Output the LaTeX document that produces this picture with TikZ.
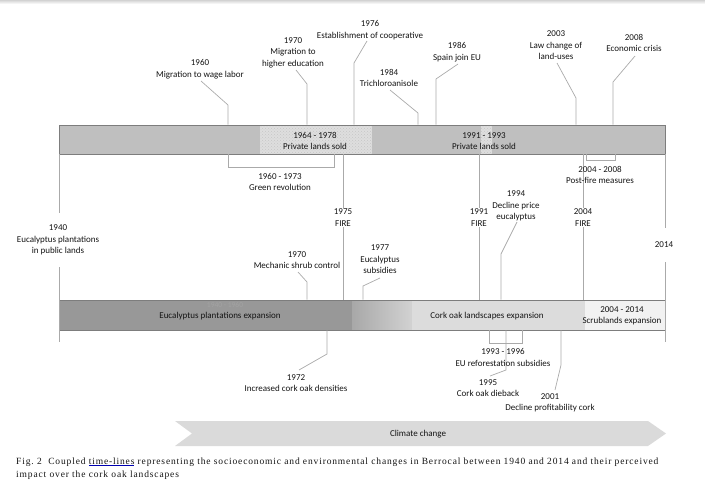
\documentclass[tikz,border=0pt]{standalone}
\usepackage{fontspec}
\setmainfont{Carlito}
\newfontfamily\capfont[LetterSpace=9]{Liberation Serif}
\usetikzlibrary{patterns}
\definecolor{topfill}{RGB}{191,191,191}
\definecolor{barborder}{RGB}{125,125,125}
\definecolor{hatchfill}{RGB}{222,222,222}
\definecolor{eucfill}{RGB}{152,152,152}
\definecolor{corkfill}{RGB}{220,220,220}
\definecolor{scrubfill}{RGB}{242,242,242}
\definecolor{linegray}{RGB}{170,170,170}
\definecolor{climfill}{RGB}{218,218,218}
\definecolor{txt}{RGB}{20,20,20}
\begin{document}
\begin{tikzpicture}[x=1pt,y=-1pt,
  lbl/.style={align=center,font=\fontsize{9}{11.6}\selectfont,inner sep=1pt,text=txt},
  wlbl/.style={lbl,fill=white},
  call/.style={draw=linegray,line width=0.7pt},
  barline/.style={draw=barborder,line width=0.8pt}]
\useasboundingbox (0,0) rectangle (705,490);
\shade[top color=gray!35,bottom color=white] (0,0) rectangle (705,4);

% ---------- top bar ----------
\fill[topfill] (59,125) rectangle (665,154);
\fill[hatchfill] (260,125) rectangle (372,154);
\fill[pattern=crosshatch dots,pattern color=gray!45] (260,125) rectangle (372,154);
\fill[hatchfill] (481,125) rectangle (492,154);
\fill[pattern=crosshatch dots,pattern color=gray!45] (481,125) rectangle (492,154);
\node[barline,minimum width=606pt,minimum height=29pt,inner sep=0pt] (topbar) at (362,139.5) {};
\node[lbl] (pl1) at (315,141) {1964 - 1978\\Private lands sold};
\node[lbl] (pl2) at (484,141) {1991 - 1993\\Private lands sold};

% ---------- bottom bar ----------
\fill[eucfill] (59,300) rectangle (352,330);
\shade[left color={rgb,255:red,168;green,168;blue,168},right color={rgb,255:red,210;green,210;blue,210}] (352,300) rectangle (412,330);
\fill[corkfill] (412,300) rectangle (585,330);
\fill[scrubfill] (585,300) rectangle (665,330);
\node[barline,minimum width=606pt,minimum height=30pt,inner sep=0pt] (botbar) at (362,315) {};
\node[lbl,text={rgb,255:red,163;green,163;blue,163},font=\fontsize{7.5}{9}\selectfont] (ghost) at (225,305) {1940 - 1960};
\node[lbl] (eucexp) at (220,316) {Eucalyptus plantations expansion};
\node[lbl] (corkexp) at (487,316) {Cork oak landscapes expansion};
\node[lbl] (scrub) at (622,316) {2004 - 2014\\Scrublands expansion};

% ---------- top callouts ----------
\node[lbl] (l1960) at (200,69) {1960\\Migration to wage labor};
\node[lbl] (l1970a) at (293,52.5) {1970\\Migration to\\higher education};
\node[lbl] (l1976) at (370,30) {1976\\Establishment of cooperative};
\node[lbl] (l1984) at (389,78) {1984\\Trichloroanisole};
\node[lbl] (l1986) at (457,52) {1986\\Spain join EU};
\node[lbl] (l2003) at (556,45.5) {2003\\Law change of\\land-uses};
\node[lbl] (l2008) at (634,43) {2008\\Economic crisis};

\coordinate (c1960) at (228,105);
\draw[call] (topbar.north -| c1960) -- (c1960) -- (201,81);
\coordinate (c1970a) at (307,84);
\draw[call] (topbar.north -| c1970a) -- (c1970a) -- (296,70);
\coordinate (c1976) at (354,63);
\draw[call] (topbar.north -| c1976) -- (c1976) -- (367,41);
\coordinate (c1984) at (418,113);
\draw[call] (topbar.north -| c1984) -- (c1984) -- (390,90);
\coordinate (c1986) at (436,79);
\draw[call] (topbar.north -| c1986) -- (c1986) -- (458,64);
\coordinate (c2003) at (576,98);
\draw[call] (topbar.north -| c2003) -- (c2003) -- (557,63);
\coordinate (c2008) at (613,82);
\draw[call] (topbar.north -| c2008) -- (c2008) -- (635,56);

% ---------- brackets under top bar ----------
\draw[call] (topbar.south -| 228,0) -- (228,167) -- (334,167) -- (topbar.south -| 334,0);
\node[lbl] (green) at (280,182) {1960 - 1973\\Green revolution};
\draw[call] (topbar.south -| 586,0) -- (586,160) -- (615,160) -- (topbar.south -| 615,0);

% ---------- long vertical lines between bars ----------
\coordinate (v1940) at (59,0);
\coordinate (v1975) at (343,0);
\coordinate (v1991) at (479,0);
\coordinate (v2004) at (583,0);
\coordinate (v2014) at (665,0);
\draw[call] (topbar.south -| v1975) -- (botbar.north -| v1975);
\draw[call] (topbar.south -| v1991) -- (botbar.north -| v1991);
\draw[call] (topbar.south -| v2004) -- (botbar.north -| v2004);
\draw[call] (topbar.south -| v1940) -- (59,342);
\draw[call] (topbar.south -| v2014) -- (665,342);
\node[lbl] (pf) at (600,175) {2004 - 2008\\Post-fire measures};
\node[wlbl] (f1975) at (343,217.5) {1975\\FIRE};
\node[wlbl] (f1991) at (479,217.5) {1991\\FIRE};
\node[wlbl] (f2004) at (583,217.5) {2004\\FIRE};
\node[wlbl,inner ysep=12pt] (l1940) at (58,240) {1940\\Eucalyptus plantations\\in public lands};
\node[wlbl,inner ysep=14pt] (l2014) at (664,245) {2014};

% ---------- callouts above bottom bar ----------
\node[lbl] (l1970b) at (297,260) {1970\\Mechanic shrub control};
\coordinate (c1970b) at (307,282);
\draw[call] (botbar.north -| c1970b) -- (c1970b) -- (298,272);
\node[lbl] (l1977) at (380,259.5) {1977\\Eucalyptus\\subsidies};
\coordinate (c1977) at (363,286);
\draw[call] (botbar.north -| c1977) -- (c1977) -- (380,278);
\node[lbl] (l1994) at (516,206) {1994\\Decline price\\eucalyptus};
\coordinate (c1994) at (501,254);
\draw[call] (botbar.north -| c1994) -- (c1994) -- (517,222);

% ---------- below bottom bar ----------
\coordinate (c1972) at (327,354);
\draw[call] (botbar.south -| c1972) -- (c1972) -- (299,370);
\node[lbl] (l1972) at (296,383) {1972\\Increased cork oak densities};
\draw[call] (botbar.south -| 489,0) -- (489,343) -- (522,343) -- (botbar.south -| 522,0);
\coordinate (c1995) at (506,370);
\draw[call] (botbar.south -| c1995) -- (c1995) -- (490,376);
\node[lbl] (eu) at (503,357.5) {1993 - 1996\\EU reforestation subsidies};
\node[lbl] (l1995) at (488,388) {1995\\Cork oak dieback};
\coordinate (c2001) at (561,365);
\draw[call] (botbar.south -| c2001) -- (c2001) -- (555,390);
\node[lbl] (l2001) at (550,403) {2001\\Decline profitability cork};

% ---------- climate change arrow ----------
\fill[climfill] (175,421) -- (648,421) -- (666,433.5) -- (648,446) -- (175,446) -- (192,433.5) -- cycle;
\node[lbl] (clim) at (418,434) {Climate change};

% ---------- caption ----------
\node[anchor=base west,inner sep=0pt,text=txt,font=\capfont\fontsize{9.5}{11}\selectfont] (cap1) at (16,464)
  {Fig.~2\ \ Coupled {\color{blue!70!black}\underline{\color{txt}time-lines}} representing the socioeconomic and environmental changes in Berrocal between 1940 and 2014 and their perceived};
\node[anchor=base west,inner sep=0pt,text=txt,font=\capfont\fontsize{9.5}{11}\selectfont] (cap2) at (16,477)
  {impact over the cork oak landscapes};
\end{tikzpicture}
\end{document}
